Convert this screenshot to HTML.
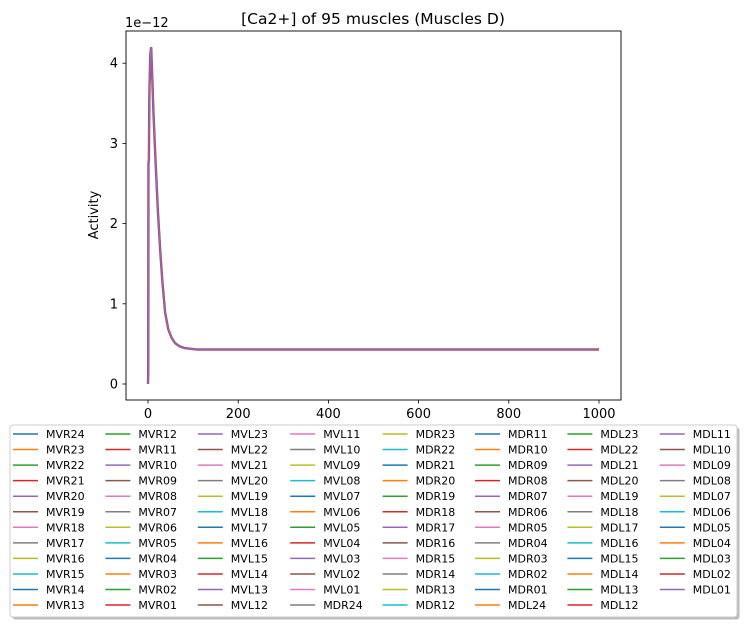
<!DOCTYPE html>
<html><head><meta charset="utf-8"><style>
body{margin:0;background:#fff;}
svg{display:block;font-family:"DejaVu Sans","Liberation Sans",sans-serif;}
</style></head><body>
<svg id="chart" width="746" height="625" viewBox="0 0 746 625" xmlns="http://www.w3.org/2000/svg">
<text x="373" y="24" text-anchor="middle" font-size="15.5">[Ca2+] of 95 muscles (Muscles D)</text>
<text x="125" y="27" font-size="13">1e−12</text>
<text transform="translate(98,215) rotate(-90)" text-anchor="middle" font-size="13">Activity</text>
<g id="series"></g>
<rect x="126" y="31" width="495" height="369" fill="none" stroke="#000" stroke-width="0.9"/>
<g id="axes"></g>
<g id="legend"></g>
</svg>
<script>
const times=[0,0.5,1,2,3,5,7,9,12,15,18,22,27,32,38,45,52,60,70,80,93,110,150,300,600,1000];
const values=[0,0.15,2.75,2.8,3.6,4.1,4.2,3.9,3.4,3.0,2.63,2.15,1.67,1.27,0.89,0.68,0.58,0.51,0.47,0.45,0.44,0.43,0.43,0.43,0.43,0.43];
const xTicks=[0,200,400,600,800,1000];
const yTicks=[0,1,2,3,4];
const colors=['#1f77b4','#ff7f0e','#2ca02c','#d62728','#9467bd','#8c564b','#e377c2','#7f7f7f','#bcbd22','#17becf'];
const NS='http://www.w3.org/2000/svg';
function xs(t){return 148+t*0.451;}
function ys(v){return 384-v*80.2;}
function mk(tag,attrs,parent){const e=document.createElementNS(NS,tag);for(const k in attrs)e.setAttribute(k,attrs[k]);parent.appendChild(e);return e;}
const sg=document.getElementById('series');
const pts=times.map((t,i)=>xs(t).toFixed(2)+','+ys(values[i]).toFixed(2)).join(' ');
[['#8c564b',2.4],['#d62728',1.8],['#9467bd',1.5]].forEach(([c,w])=>{
 const p=mk('polyline',{points:pts,fill:'none',stroke:c,'stroke-width':w},sg);
 
 
});
const ag=document.getElementById('axes');
xTicks.forEach(t=>{
 const l=mk('line',{x1:xs(t),x2:xs(t),y1:400,y2:403.5,stroke:'#000','stroke-width':0.8},ag);
 
 
 const tx=mk('text',{x:xs(t),y:418,'text-anchor':'middle','font-size':13},ag);
 tx.textContent=t;
 
 
});
yTicks.forEach(v=>{
 const l=mk('line',{x1:122.5,x2:126,y1:ys(v),y2:ys(v),stroke:'#000','stroke-width':0.8},ag);
 
 
 const tx=mk('text',{x:118,y:ys(v)+4.5,'text-anchor':'end','font-size':13},ag);
 tx.textContent=v;
 
 
});
const names=[];
for(let i=24;i>=1;i--)names.push('MVR'+String(i).padStart(2,'0'));
for(let i=23;i>=1;i--)names.push('MVL'+String(i).padStart(2,'0'));
for(let i=24;i>=1;i--)names.push('MDR'+String(i).padStart(2,'0'));
for(let i=24;i>=1;i--)names.push('MDL'+String(i).padStart(2,'0'));
const lg=document.getElementById('legend');
mk('rect',{x:12.5,y:427.5,width:727,height:192,rx:3,fill:'#bbb'},lg);
const box=mk('rect',{x:10,y:425,width:727,height:192,rx:3,fill:'#fff',stroke:'#ccc','stroke-width':1},lg);


names.forEach((n,i)=>{
 const col=Math.floor(i/12),row=i%12;
 const x=13+col*92.4,y=434+row*15.55;
 const g=mk('g',{},lg);
 
 
 mk('line',{x1:x,x2:x+25,y1:y,y2:y,stroke:colors[i%10],'stroke-width':1.5},g);
 const t=mk('text',{x:x+33,y:y+4,'font-size':11},g);
 t.textContent=n;
});
</script>
</body></html>
